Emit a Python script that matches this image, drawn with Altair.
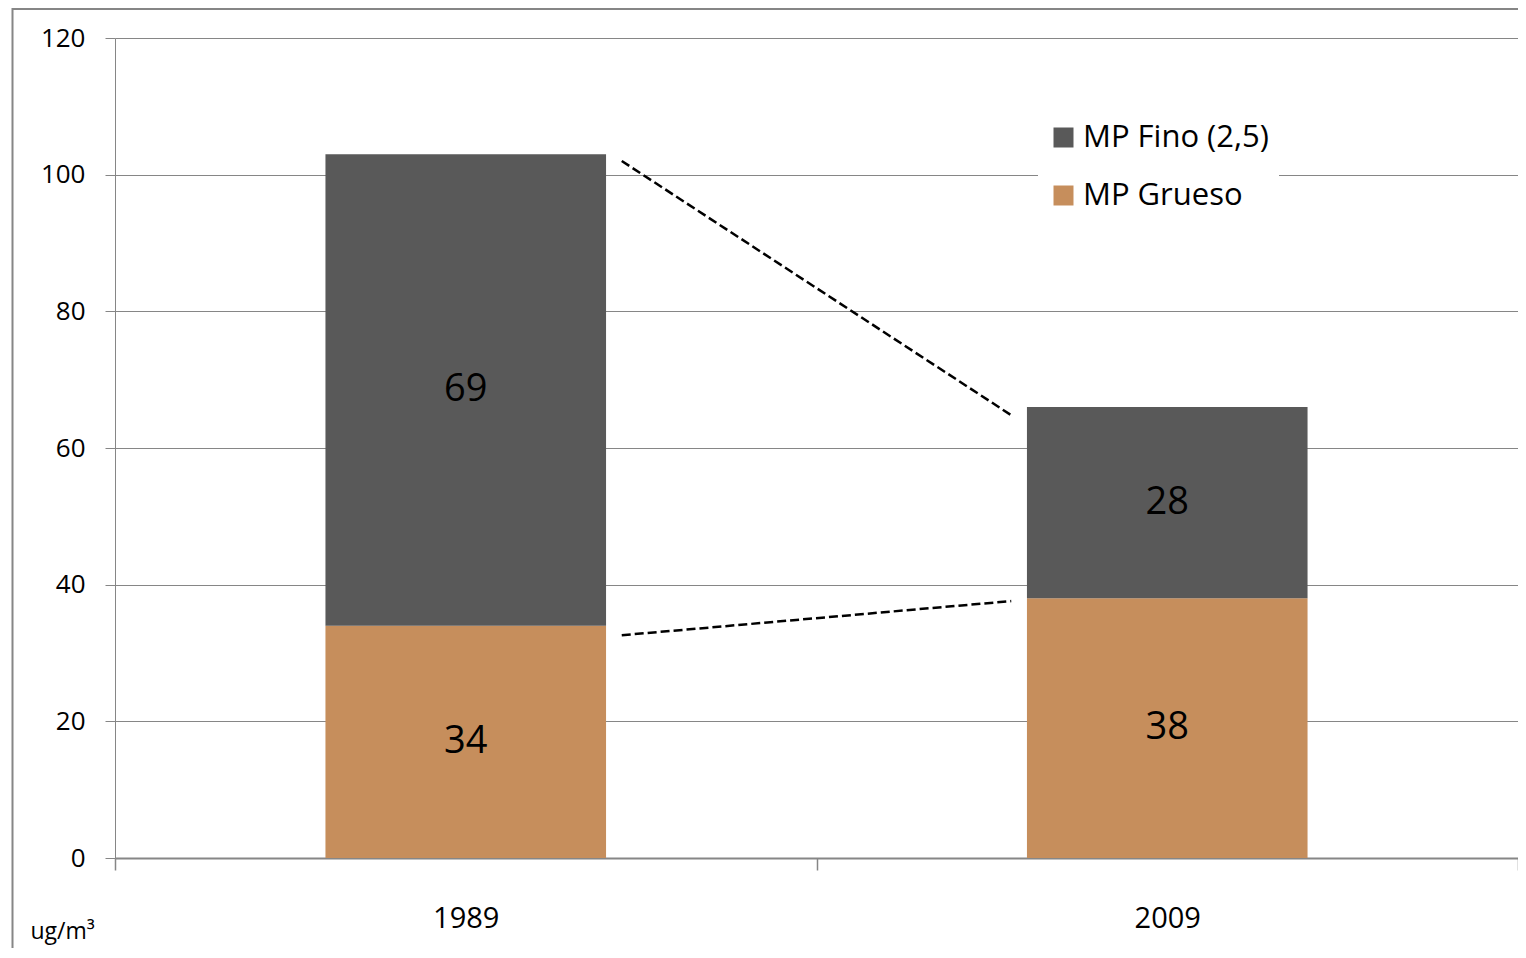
import altair as alt
import pandas as pd

# ---- data ----
years = ["1989", "2009"]
series = ["MP Fino (2,5)", "MP Grueso"]
fino = [69, 28]
grueso = [34, 38]

# dashed connector lines (start / end values)
link_from = ["1989", "1989"]
link_to = ["2009", "2009"]
link_start = [102.0, 32.6]
link_end = [64.8, 37.6]

colors = ["#595959", "#C68E5C"]

rows = []
for i, y in enumerate(years):
    rows.append({"year": y, "serie": series[1], "value": grueso[i], "ord": 0,
                 "mid": grueso[i] / 2})
    rows.append({"year": y, "serie": series[0], "value": fino[i], "ord": 1,
                 "mid": grueso[i] + fino[i] / 2})
df = pd.DataFrame(rows)

links = pd.DataFrame({"from": link_from, "to": link_to,
                      "y1": link_start, "y2": link_end})

FONT = "Open Sans"
GRID = "#868686"

xenc = alt.X("year:N", title=None,
             scale=alt.Scale(paddingInner=0, paddingOuter=0),
             axis=alt.Axis(tickBand="extent", tickSize=12, tickColor=GRID,
                           tickWidth=1.5, domainColor=GRID, domainWidth=2,
                           labelAngle=0, labelFontSize=29, labelFont=FONT,
                           labelColor="#000", labelPadding=34, grid=False))

yscale = alt.Scale(domain=[0, 120])

bars = alt.Chart(df).mark_bar(width=alt.RelativeBandSize(0.4)).encode(
    x=xenc,
    y=alt.Y("value:Q", stack="zero", scale=yscale,
            axis=alt.Axis(values=[0, 20, 40, 60, 80, 100, 120],
                          grid=True, gridColor=GRID, gridWidth=1,
                          domainColor=GRID, tickColor=GRID, tickSize=10,
                          labelFontSize=26, labelFont=FONT, labelColor="#000",
                          labelPadding=20,
                          title="ug/m³", titleAngle=0, titleX=-85, titleY=900,
                          titleAlign="left", titleBaseline="alphabetic",
                          titleFont=FONT, titleFontSize=23,
                          titleFontWeight="normal", titleColor="#000")),
    color=alt.Color("serie:N",
                    scale=alt.Scale(domain=series, range=colors),
                    legend=alt.Legend(title=None, orient="none", legendX=923,
                                      legendY=74, fillColor="white",
                                      padding=10, labelFontSize=31,
                                      labelFont=FONT, labelColor="#000",
                                      symbolType="square", symbolSize=400,
                                      symbolStrokeWidth=0, labelOffset=4,
                                      rowPadding=26, labelLimit=400)),
    order=alt.Order("ord:Q", sort="ascending"),
)

labels = alt.Chart(df).mark_text(fontSize=38, font=FONT, color="#000",
                                 baseline="middle", align="center").encode(
    x=alt.X("year:N"),
    y=alt.Y("mid:Q", scale=yscale),
    text=alt.Text("value:Q"),
)

dashes = alt.Chart(links).mark_rule(color="#000", strokeWidth=2.5,
                                    strokeDash=[9, 4],
                                    xOffset=156, x2Offset=-156).encode(
    x=alt.X("from:N", bandPosition=0.5),
    x2=alt.X2("to:N", bandPosition=0.5),
    y=alt.Y("y1:Q", scale=yscale),
    y2=alt.Y2("y2:Q"),
)

frame_df = pd.DataFrame({"k": [0]})
frame_top = alt.Chart(frame_df).mark_rule(color=GRID, strokeWidth=2).encode(
    x=alt.value(-103), x2=alt.value(1420), y=alt.value(-29))
frame_left = alt.Chart(frame_df).mark_rule(color=GRID, strokeWidth=2).encode(
    x=alt.value(-102.5), y=alt.value(-30), y2=alt.value(920))

chart = alt.layer(bars, labels, dashes, frame_top, frame_left).properties(
    width=1403, height=820,
    autosize=alt.AutoSizeParams(type="none"),
    padding={"left": 107, "top": 30, "right": 0, "bottom": 90},
    background="white",
).configure_view(stroke="transparent")

chart.save("out.html", embed_options={"renderer": "svg", "actions": False})
